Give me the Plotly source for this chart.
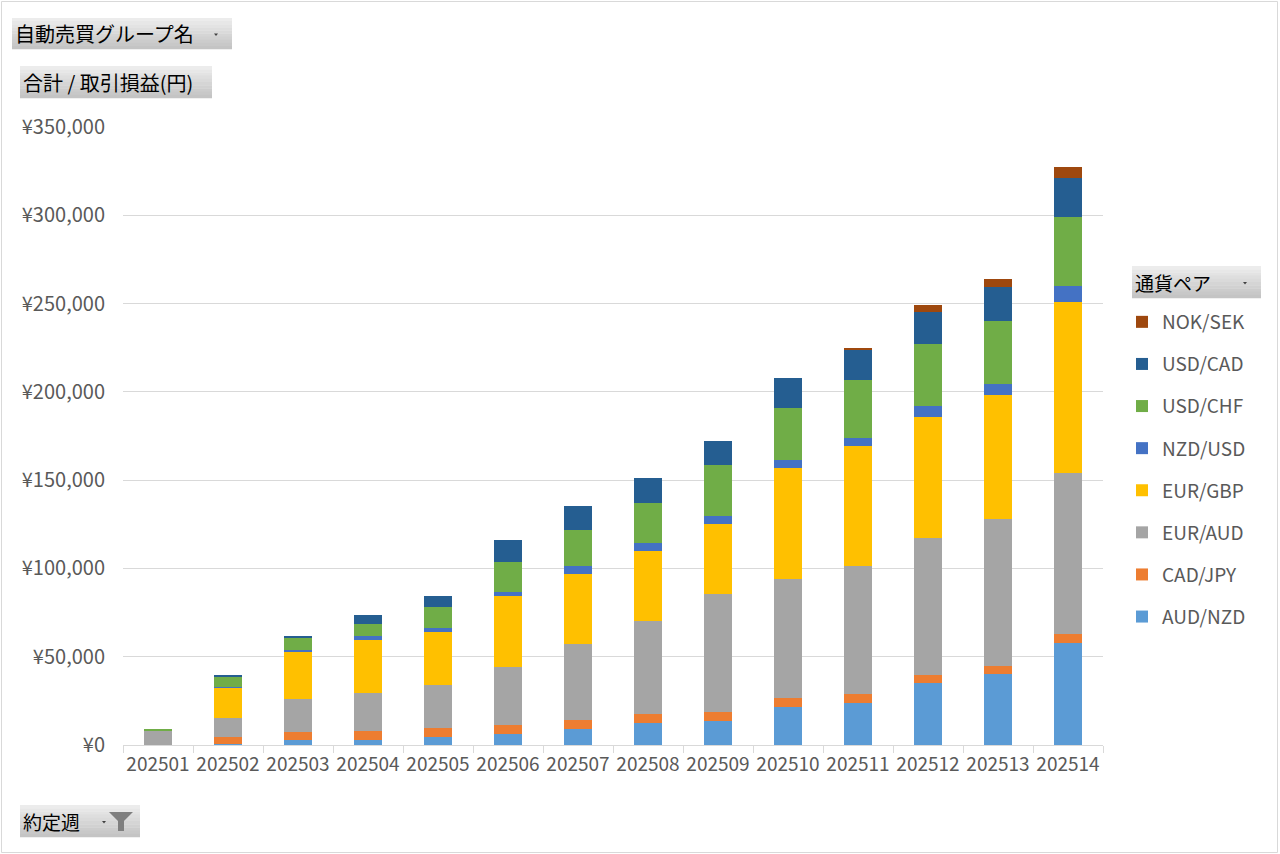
import plotly.graph_objects as go

weeks = ["202501", "202502", "202503", "202504", "202505", "202506", "202507",
         "202508", "202509", "202510", "202511", "202512", "202513", "202514"]

aud_nzd = [0, 500, 2640, 3020, 4720, 6230, 9060, 12270, 13590, 21710, 23970, 34920, 40020, 57940]
cad_jpy = [0, 4150, 4900, 4720, 5100, 4900, 4900, 5470, 5100, 5100, 5100, 4900, 4900, 4900]
eur_aud = [8320, 10760, 18500, 21900, 24350, 33220, 43040, 52290, 66630, 67390, 72300, 77580, 83240, 90990]
eur_gbp = [0, 17000, 27180, 29820, 29820, 40020, 40020, 40020, 40020, 62860, 67960, 68340, 69850, 97200]
nzd_usd = [0, 300, 400, 2260, 2450, 2450, 4340, 4530, 4530, 4530, 4530, 6420, 6610, 9060]
usd_chf = [950, 5850, 6800, 6800, 11700, 16800, 20390, 22650, 28880, 29450, 32850, 35110, 35490, 38890]
usd_cad = [0, 1130, 1500, 4900, 6420, 12650, 13780, 13970, 13590, 16990, 17550, 18120, 19070, 22270]
nok_sek = [0, 0, 0, 0, 0, 0, 0, 0, 0, 0, 750, 3590, 4720, 5850]

series = [
    ("AUD/NZD", aud_nzd, "#5B9BD5"),
    ("CAD/JPY", cad_jpy, "#ED7D31"),
    ("EUR/AUD", eur_aud, "#A5A5A5"),
    ("EUR/GBP", eur_gbp, "#FFC000"),
    ("NZD/USD", nzd_usd, "#4472C4"),
    ("USD/CHF", usd_chf, "#70AD47"),
    ("USD/CAD", usd_cad, "#255E91"),
    ("NOK/SEK", nok_sek, "#9E480E"),
]

FONT = "Noto Sans CJK JP"
W, H = 1280, 854
L, R, T, B = 123, 1103, 127, 745

fig = go.Figure()
n_series = len(series)
for i, (name, vals, col) in enumerate(series):
    fig.add_trace(go.Bar(
        x=weeks, y=vals, name=name, legendgroup=name, legendrank=n_series - i,
        marker=dict(color=col, line=dict(width=0)),
    ))

def px_x(px):
    return (px - L) / (R - L)

def px_y(py):
    return (B - py) / (B - T)

shapes = []
annotations = []

# outer border
shapes.append(dict(type="rect", xref="paper", yref="paper",
                   x0=px_x(1.5), x1=px_x(1277.5), y0=px_y(852.5), y1=px_y(1.5),
                   line=dict(color="#D9D9D9", width=1), fillcolor="rgba(0,0,0,0)", layer="below"))

def button(x0, y0, x1, y1, text, arrow_x=None, funnel=False, fs=19):
    n = 10
    top = (236, 236, 236)
    bot = (196, 196, 196)
    h = (y1 - y0) / n
    for k in range(n):
        t = k / (n - 1)
        c = tuple(int(top[j] + (bot[j] - top[j]) * t) for j in range(3))
        shapes.append(dict(type="rect", xref="paper", yref="paper",
                           x0=px_x(x0), x1=px_x(x1),
                           y0=px_y(y0 + h * (k + 1) + 0.3), y1=px_y(y0 + h * k),
                           line=dict(width=0), fillcolor="rgb(%d,%d,%d)" % c, layer="below"))
    annotations.append(dict(xref="paper", yref="paper", x=px_x(x0 + 1), y=px_y((y0 + y1) / 2),
                            text=text, showarrow=False, xanchor="left", yanchor="middle",
                            font=dict(family=FONT, size=fs, color="#000000")))
    if arrow_x is not None:
        ay = (y0 + y1) / 2 + 1
        shapes.append(dict(type="path", xref="paper", yref="paper",
                           path="M %f,%f L %f,%f L %f,%f Z" % (
                               px_x(arrow_x - 2), px_y(ay - 1),
                               px_x(arrow_x + 2), px_y(ay - 1),
                               px_x(arrow_x), px_y(ay + 1.5)),
                           fillcolor="#404040", line=dict(width=0)))
    if funnel:
        fx0, fy0 = x1 - 31, y0 + 7
        pts = [(fx0, fy0), (fx0 + 24, fy0), (fx0 + 15, fy0 + 9), (fx0 + 15, fy0 + 19),
               (fx0 + 9, fy0 + 19), (fx0 + 9, fy0 + 9)]
        path = "M " + " L ".join("%f,%f" % (px_x(a), px_y(b)) for a, b in pts) + " Z"
        shapes.append(dict(type="path", xref="paper", yref="paper", path=path,
                           fillcolor="#7F7F7F", line=dict(width=0)))

button(12, 18, 232, 49, "自動売買グループ名", arrow_x=216, fs=20)
button(20, 66, 212, 98, "合計 / 取引損益(円)", fs=20)
button(20, 805, 140, 837, "約定週", arrow_x=104, funnel=True)
button(1132, 266, 1261, 298, "通貨ペア", arrow_x=1245)

fig.update_layout(
    width=W, height=H,
    margin=dict(l=L, r=W - R, t=T, b=H - B, pad=0),
    paper_bgcolor="white", plot_bgcolor="white",
    barmode="stack", bargap=0.6,
    font=dict(family=FONT, color="#595959"),
    showlegend=True,
    legend=dict(
        traceorder="grouped", x=px_x(1122), xanchor="left", y=px_y(303), yanchor="top",
        font=dict(family=FONT, size=19, color="#595959"),
        tracegroupgap=14.4, bgcolor="rgba(0,0,0,0)", itemwidth=30,
    ),
    xaxis=dict(
        type="category", showgrid=False, showline=True, linecolor="#D9D9D9", linewidth=1,
        ticks="outside", ticklen=7, tickcolor="#D9D9D9", tickson="boundaries", tickangle=0,
        tickfont=dict(family=FONT, size=19, color="#595959"), ticklabelstandoff=2,
    ),
    yaxis=dict(
        range=[0, 350000], dtick=50000, tickprefix="¥", tickformat=",d",
        showgrid=True, gridcolor="#D9D9D9", gridwidth=1, zeroline=False, showline=False,
        ticks="", tickfont=dict(family=FONT, size=20, color="#595959"), ticklabelstandoff=17,
    ),
    shapes=shapes, annotations=annotations,
)

fig.write_html("out.html", config={"displayModeBar": False},
               post_script="document.body.style.margin='0px';")
